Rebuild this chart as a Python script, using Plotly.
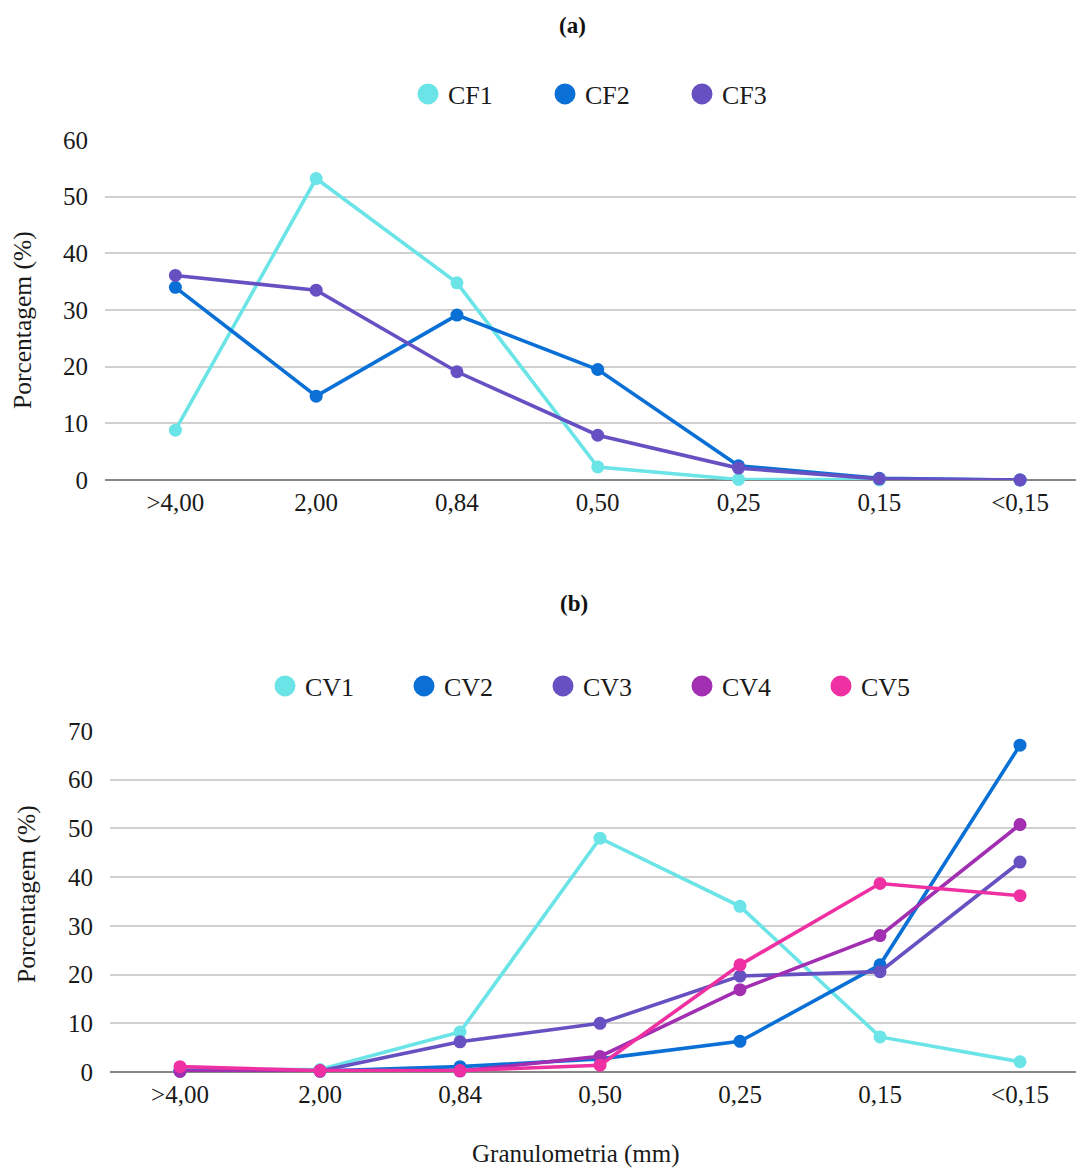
import plotly.graph_objects as go

categories = [">4,00", "2,00", "0,84", "0,50", "0,25", "0,15", "<0,15"]

# Panel (a)
CF1 = [8.8, 53.2, 34.8, 2.3, 0.1, 0.0, 0.0]
CF2 = [34.0, 14.8, 29.1, 19.5, 2.5, 0.3, 0.0]
CF3 = [36.1, 33.5, 19.1, 7.9, 2.1, 0.2, 0.0]

# Panel (b)
CV1 = [0.5, 0.5, 8.2, 48.0, 34.0, 7.2, 2.1]
CV2 = [0.2, 0.2, 1.1, 2.7, 6.3, 22.0, 67.1]
CV3 = [0.3, 0.2, 6.2, 10.0, 19.7, 20.6, 43.1]
CV4 = [0.1, 0.2, 0.2, 3.2, 16.9, 28.0, 50.8]
CV5 = [1.1, 0.3, 0.3, 1.4, 22.0, 38.7, 36.2]

names_a = ["CF1", "CF2", "CF3"]
names_b = ["CV1", "CV2", "CV3", "CV4", "CV5"]
colors = ["#6ae4e6", "#0a70d6", "#6750c2", "#a22fb2", "#ef30a2"]

FONT = "Liberation Serif, Times New Roman, serif"
# page has an 8px body margin, so the figure is 8px smaller than the window
W, H = 1076, 1165

fig = go.Figure()

def add_series(vals, name, color, xa, ya, legend):
    fig.add_trace(go.Scatter(
        x=categories, y=vals, mode="lines+markers", name=name,
        line=dict(color=color, width=3.6),
        marker=dict(color=color, size=13),
        xaxis=xa, yaxis=ya, showlegend=False, cliponaxis=False))
    fig.add_trace(go.Scatter(
        x=[None], y=[None], mode="markers", name=name,
        marker=dict(color=color, size=16, line=dict(color=color, width=5)),
        xaxis=xa, yaxis=ya, legend=legend, showlegend=True))

for vals, name, color in zip([CF1, CF2, CF3], names_a, colors[:3]):
    add_series(vals, name, color, "x", "y", "legend")
for vals, name, color in zip([CV1, CV2, CV3, CV4, CV5], names_b, colors):
    add_series(vals, name, color, "x2", "y2", "legend2")

axis_common = dict(
    type="category", categoryorder="array", categoryarray=categories,
    showgrid=False, showline=False, ticks="", zeroline=False,
    tickfont=dict(family=FONT, size=25, color="#1a1a1a"),
    ticklabelstandoff=5, fixedrange=True, automargin=False,
)
yaxis_common = dict(
    showgrid=True, gridcolor="#d0d0d0", gridwidth=2,
    zeroline=True, zerolinecolor="#878787", zerolinewidth=2,
    showline=False, ticks="", dtick=10, automargin=False,
    tickfont=dict(family=FONT, size=25, color="#1a1a1a"),
    ticklabelstandoff=16,
)

fig.update_layout(
    width=W, height=H,
    margin=dict(l=0, r=0, t=0, b=0, autoexpand=False),
    paper_bgcolor="white", plot_bgcolor="white",
    font=dict(family=FONT, color="#1a1a1a"),
    xaxis=dict(axis_common, domain=[97 / W, 1], range=[-0.5, 6.454], anchor="y"),
    yaxis=dict(yaxis_common, domain=[1 - 472 / H, 1 - 132 / H], range=[0, 60], anchor="x"),
    xaxis2=dict(axis_common, domain=[102 / W, 1], range=[-0.5, 6.457], anchor="y2"),
    yaxis2=dict(yaxis_common, domain=[1 - 1064 / H, 1 - 723 / H], range=[0, 70], anchor="x2"),
    legend=dict(orientation="h", x=400 / W, y=1 - 86 / H, xanchor="left", yanchor="middle",
                font=dict(family=FONT, size=26, color="#1a1a1a"),
                entrywidth=92, entrywidthmode="pixels", itemwidth=30,
                bgcolor="rgba(0,0,0,0)"),
    legend2=dict(orientation="h", x=257 / W, y=1 - 678 / H, xanchor="left", yanchor="middle",
                 font=dict(family=FONT, size=26, color="#1a1a1a"),
                 entrywidth=94, entrywidthmode="pixels", itemwidth=30,
                 bgcolor="rgba(0,0,0,0)"),
    annotations=[
        dict(text="<b>(a)</b>", x=564 / W, y=1 - 17 / H, xref="paper", yref="paper",
             xanchor="center", yanchor="middle",
             showarrow=False, font=dict(family=FONT, size=23, color="#111")),
        dict(text="<b>(b)</b>", x=566 / W, y=1 - 595 / H, xref="paper", yref="paper",
             xanchor="center", yanchor="middle",
             showarrow=False, font=dict(family=FONT, size=23, color="#111")),
        dict(text="Porcentagem (%)", x=15 / W, y=1 - 312 / H, xref="paper", yref="paper",
             xanchor="center", yanchor="middle",
             textangle=-90, showarrow=False, font=dict(family=FONT, size=25.5, color="#1a1a1a")),
        dict(text="Porcentagem (%)", x=18 / W, y=1 - 886 / H, xref="paper", yref="paper",
             xanchor="center", yanchor="middle",
             textangle=-90, showarrow=False, font=dict(family=FONT, size=25.5, color="#1a1a1a")),
        dict(text="Granulometria (mm)", x=568 / W, y=1 - 1146 / H, xref="paper", yref="paper",
             xanchor="center", yanchor="middle",
             showarrow=False, font=dict(family=FONT, size=25, color="#1a1a1a")),
    ],
)

fig.write_html("out.html")
